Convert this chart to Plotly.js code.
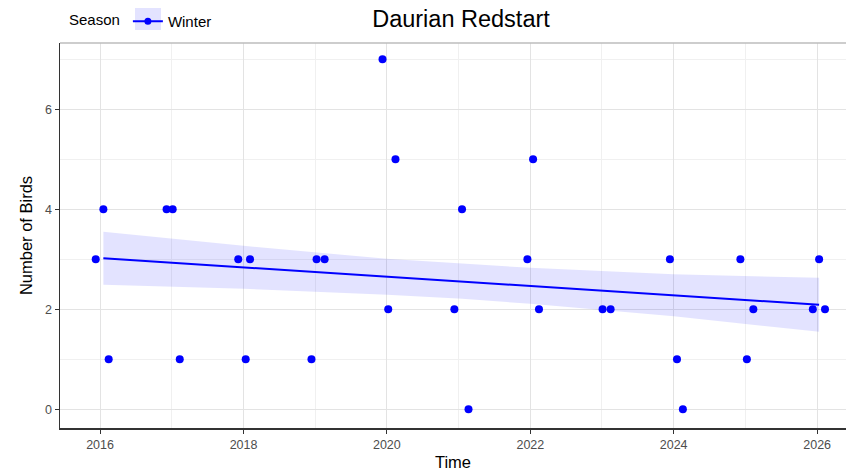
<!DOCTYPE html>
<html>
<head>
<meta charset="utf-8">
<script src="https://cdn.plot.ly/plotly-3.0.1.min.js"></script>
<style>html,body{margin:0;padding:0;background:#fff;}#chart{width:846px;height:473px;}</style>
</head>
<body>
<div id="chart"></div>
<script>
// Observed counts (winter surveys)
const obsDates = [
  '2015-12-10','2016-01-18','2016-02-14',
  '2016-12-05','2017-01-05','2017-02-10',
  '2017-12-05','2018-01-12','2018-02-03',
  '2018-12-13','2019-01-08','2019-02-18',
  '2019-12-10','2020-01-08','2020-02-14',
  '2020-12-10','2021-01-18','2021-02-20',
  '2021-12-17','2022-01-15','2022-02-14',
  '2023-01-04','2023-02-14',
  '2023-12-13','2024-01-18','2024-02-17',
  '2024-12-06','2025-01-08','2025-02-10',
  '2025-12-10','2026-01-11','2026-02-10'
];
const obsCounts = [
  3,4,1,
  4,4,1,
  3,1,3,
  1,3,3,
  7,2,5,
  2,4,0,
  3,5,2,
  2,2,
  3,1,0,
  3,1,2,
  2,3,2
];
// Linear trend with confidence band
const fitDates = ['2016-01-18','2018-01-01','2020-01-01','2021-01-18','2022-01-01','2024-01-01','2026-01-11'];
const fitMean  = [3.02, 2.84, 2.65, 2.56, 2.47, 2.28, 2.09];
const fitUpper = [3.55, 3.27, 3.01, 2.91, 2.83, 2.70, 2.63];
const fitLower = [2.49, 2.41, 2.29, 2.21, 2.11, 1.86, 1.55];
// Axis tick positions
const xMajorTicks = ['2016-01-01','2018-01-01','2020-01-01','2022-01-01','2024-01-01','2026-01-01'];
const xTickLabels = ['2016','2018','2020','2022','2024','2026'];
const xMinorTicks = ['2015-01-01','2017-01-01','2019-01-01','2021-01-01','2023-01-01','2025-01-01'];

const seriesName = 'Winter';
const legendTitle = 'Season';
const chartTitle = 'Daurian Redstart';
const xTitle = 'Time';
const yTitle = 'Number of Birds';

const blue = '#0000FF';
const font = '"Liberation Sans", Arial, sans-serif';

const bandX = fitDates.concat(fitDates.slice().reverse());
const bandY = fitUpper.concat(fitLower.slice().reverse());

const traces = [
  {x: bandX, y: bandY, type: 'scatter', mode: 'lines', fill: 'toself',
   fillcolor: 'rgba(0,0,255,0.11)', line: {width: 0, color: 'rgba(0,0,0,0)'},
   hoverinfo: 'skip', showlegend: false},
  {x: fitDates, y: fitMean, type: 'scatter', mode: 'lines',
   line: {color: blue, width: 2}, showlegend: false},
  {x: obsDates, y: obsCounts, type: 'scatter', mode: 'markers',
   marker: {color: blue, size: 8}, showlegend: false},
  {x: [null], y: [null], type: 'scatter', mode: 'lines+markers', name: seriesName,
   line: {color: blue, width: 2}, marker: {color: blue, size: 7}, showlegend: true}
];

const layout = {
  width: 846, height: 473,
  margin: {l: 60, r: 0, t: 43, b: 45},
  paper_bgcolor: '#fff', plot_bgcolor: '#fff',
  font: {family: font, color: '#000'},
  title: {text: chartTitle, font: {size: 23.5, color: '#000'}, x: 461/846, xanchor: 'center', xref: 'container', y: 1 - 19/473, yanchor: 'middle', yref: 'container'},
  showlegend: true,
  legend: {orientation: 'h', x: 67/846, xref: 'container', xanchor: 'left', y: 1 - 5/473, yref: 'container', yanchor: 'top',
           title: {text: legendTitle, font: {size: 15, color: '#000'}, side: 'left'},
           font: {size: 15, color: '#000'}, bgcolor: 'rgba(0,0,0,0)'},
  xaxis: {
    type: 'date',
    range: ['2015-06-11', '2026-05-28'],
    tickmode: 'array', tickvals: xMajorTicks, ticktext: xTickLabels,
    ticks: 'outside', ticklen: 4, tickcolor: '#333', tickwidth: 1,
    tickfont: {size: 12.5, color: '#4D4D4D'},
    showgrid: true, gridcolor: '#E3E3E3', gridwidth: 1,
    minor: {tickmode: 'array', tickvals: xMinorTicks, ticks: '', showgrid: true, gridcolor: '#F0F0F0', gridwidth: 1},
    showline: true, linecolor: '#333', linewidth: 1.5,
    zeroline: false,
    title: {text: xTitle, font: {size: 16.5, color: '#000'}, standoff: 6}
  },
  yaxis: {
    range: [-0.374, 7.326],
    tick0: 0, dtick: 2,
    ticks: 'outside', ticklen: 4, tickcolor: '#333', tickwidth: 1,
    tickfont: {size: 12.5, color: '#4D4D4D'},
    showgrid: true, gridcolor: '#E3E3E3', gridwidth: 1,
    minor: {dtick: 1, showgrid: true, gridcolor: '#F0F0F0', gridwidth: 1},
    showline: true, linecolor: '#333', linewidth: 1.5,
    zeroline: false,
    title: {text: yTitle, font: {size: 16.5, color: '#000'}, standoff: 8}
  },
  shapes: [
    {type: 'line', xref: 'paper', yref: 'paper', x0: 0, x1: 1, y0: 1, y1: 1,
     line: {color: '#BDBDBD', width: 1.5}, layer: 'above'},
    {type: 'rect', xref: 'paper', yref: 'paper', xsizemode: 'pixel', ysizemode: 'pixel',
     xanchor: (135 - 60) / 786, x0: 0, x1: 26, yanchor: 1, y0: 35, y1: 13,
     fillcolor: 'rgba(0,0,255,0.11)', line: {width: 0}, layer: 'below'}
  ]
};

Plotly.newPlot('chart', traces, layout, {displayModeBar: false, staticPlot: true});
</script>
</body>
</html>
